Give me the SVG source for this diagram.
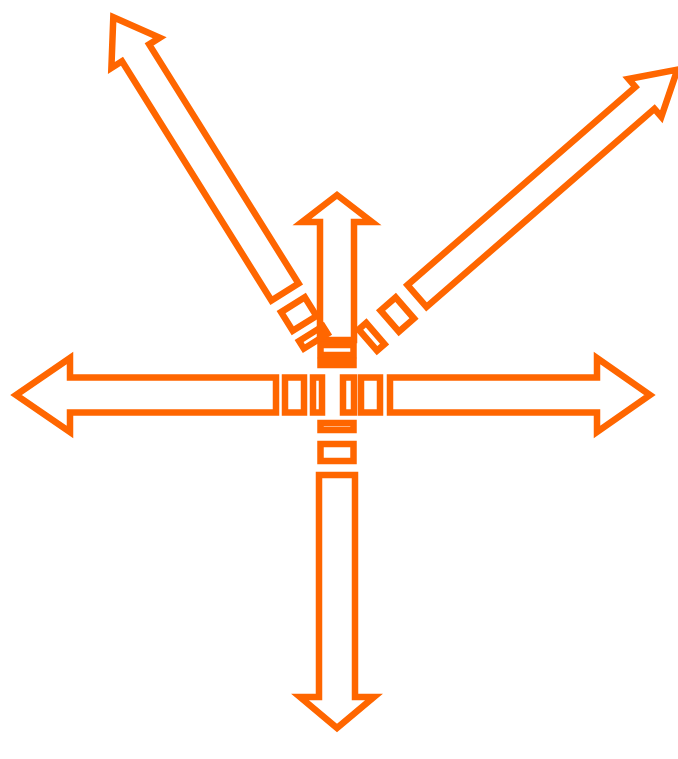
<svg xmlns="http://www.w3.org/2000/svg" width="678" height="759" viewBox="0 0 678 759">
<style>
.s{fill:none;stroke:#ff6600;stroke-width:6.5;stroke-linejoin:miter;stroke-miterlimit:10}
</style>
<rect width="678" height="759" fill="#ffffff"/>
<g id="arrow-right" transform="translate(390,395)">
<path class="s" d="M0,-17.5 L207,-17.5 L207,-37 L260,0 L207,37 L207,17.5 L0,17.5 Z"/>
<rect class="s" x="-29" y="-17.5" width="19" height="35"/>
<rect class="s" x="-47" y="-17.5" width="11" height="35"/>
</g>
<g id="arrow-left" transform="translate(276,395) rotate(180)">
<path class="s" d="M0,-17.5 L206,-17.5 L206,-37 L260,0 L206,37 L206,17.5 L0,17.5 Z"/>
<rect class="s" x="-28" y="-17.5" width="19" height="35"/>
<rect class="s" x="-46" y="-17.5" width="9" height="35"/>
</g>
<g id="arrow-up" transform="translate(337,340) rotate(-90)">
<path class="s" d="M0,-17 L118,-17 L118,-35 L145,0 L118,35 L118,17 L0,17 Z"/>
<rect class="s" x="-15" y="-16.5" width="10" height="33"/>
<rect class="s" x="-25" y="-16.5" width="4" height="33"/>
</g>
<g id="arrow-down" transform="translate(337,475) rotate(90)">
<path class="s" d="M0,-18 L222,-18 L222,-37 L253,0 L222,37 L222,18 L0,18 Z"/>
<rect class="s" x="-31" y="-16.5" width="17" height="33"/>
<rect class="s" x="-52" y="-16.5" width="7" height="33"/>
</g>
<g id="arrow-upleft" transform="translate(285,292) rotate(-122)">
<path class="s" d="M0,-16 L282,-16 L282,-28.5 L324,0 L282,28.5 L282,16 L0,16 Z"/>
<rect class="s" x="-37" y="-14" width="22" height="28"/>
<rect class="s" x="-58" y="-14" width="9" height="28"/>
</g>
<g id="arrow-upright" transform="translate(417,296) rotate(-41)">
<path class="s" d="M0,-14.5 L302,-14.5 L302,-25 L345,0 L302,25 L302,14.5 L0,14.5 Z"/>
<rect class="s" x="-37" y="-13" width="20" height="28"/>
<rect class="s" x="-66" y="-13" width="10" height="28"/>
</g>
</svg>
